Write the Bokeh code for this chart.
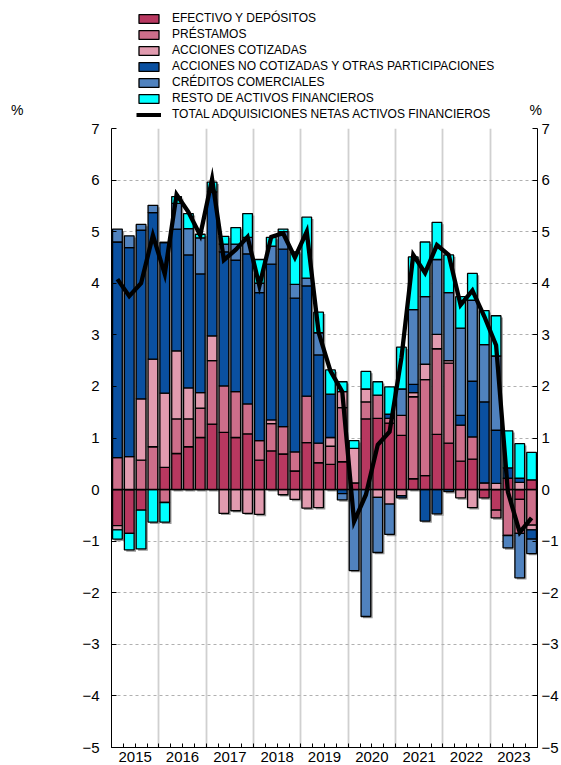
import numpy as np
from bokeh.plotting import figure
from bokeh.layouts import column
from bokeh.models import (ColumnDataSource, FixedTicker, LinearAxis, Legend,
                          LegendItem, Span)
from bokeh.embed import file_html
from bokeh.resources import INLINE

# ---------------- data (quarterly, 2015Q1 - 2023Q4), % ----------------
years = ["2015", "2016", "2017", "2018", "2019", "2020", "2021", "2022", "2023"]

efectivo = [-0.70, -0.85, -0.40, 0.00, 0.43, 0.70, 0.83, 1.01, 1.27, 1.11, 1.01, 1.08,
            0.57, 0.75, 0.69, 0.36, 0.91, 0.52, 0.49, 0.54, 0.13, 1.37, 1.38, 1.29,
            1.05, 0.21, 0.27, 1.07, 0.90, 0.55, 0.59, -0.16, -0.40, 0.22, -0.19, 0.19]
prestamos = [0.62, 0.00, 0.57, 0.83, -0.25, 0.67, 0.54, 0.57, 1.23, 0.90, 0.89, 0.58,
             0.38, 0.53, 0.53, 0.37, 0.90, 0.38, 0.35, 1.05, 0.00, 0.33, 0.45, 0.09,
             0.39, 1.59, 1.86, 1.66, 1.55, 0.70, 0.43, 0.13, -0.15, -0.89, -0.66, -0.69]
acc_cotizadas = [-0.08, 0.64, 1.19, 1.70, 1.44, 1.32, 0.60, 0.30, 0.48, -0.46, -0.41, -0.46,
                 -0.48, 0.07, -0.10, -0.19, -0.36, -0.35, 0.17, 0.31, 0.67, 0.25, -0.15, -0.28,
                 -0.12, 0.08, 0.30, 0.28, 0.05, -0.16, -0.35, 0.00, 0.12, 0.00, 0.14, -0.09]
acc_no_cotizadas = [4.18, 4.05, 3.27, 2.84, 2.92, 2.36, 2.58, 2.30, 2.79, 2.60, 2.55, 2.91,
                    2.87, 3.02, 3.44, 2.98, 2.14, 1.71, 0.84, -0.08, 0.00, 0.00, 0.00, 0.08,
                    -0.04, 0.16, -0.61, -0.47, -0.04, 0.19, 1.08, 1.57, 1.03, 0.20, 0.08, -0.18]
creditos = [0.25, 0.23, 0.11, 0.14, 0.00, 0.50, 0.51, 0.70, 0.00, 0.15, 0.31, 0.32,
            0.18, 0.35, 0.34, 0.27, 0.15, 0.43, 0.00, -0.12, -1.57, -2.46, -1.07, -0.59,
            0.51, 1.45, 1.31, 1.45, 1.32, 1.69, 1.57, 1.11, 1.44, -0.24, -0.86, -0.28]
resto = [-0.18, -0.32, -0.75, -0.63, -0.38, 0.13, 0.29, 0.07, 0.19, 0.15, 0.32, 0.46,
         0.46, 0.17, 0.05, 0.63, 1.18, 0.40, 0.47, 0.19, 0.15, 0.34, 0.26, 0.53,
         0.81, 1.02, 1.06, 0.72, 0.73, 0.61, 0.52, 0.66, 0.78, 0.72, 0.67, 0.53]
total = [4.08, 3.75, 4.00, 4.93, 4.18, 5.72, 5.38, 4.93, 6.02, 4.45, 4.65, 4.90,
         3.95, 4.90, 4.97, 4.50, 5.00, 3.05, 2.30, 1.90, -0.62, -0.10, 0.87, 1.12,
         2.55, 4.55, 4.20, 4.74, 4.55, 3.58, 3.86, 3.36, 2.80, -0.05, -0.83, -0.55]

labels = ["EFECTIVO Y DEPÓSITOS", "PRÉSTAMOS", "ACCIONES COTIZADAS",
          "ACCIONES NO COTIZADAS Y OTRAS PARTICIPACIONES", "CRÉDITOS COMERCIALES",
          "RESTO DE ACTIVOS FINANCIEROS"]
line_label = "TOTAL ADQUISICIONES NETAS ACTIVOS FINANCIEROS"
colors = ["#b83860", "#cd6e8a", "#e19baf", "#0a50a0", "#5082be", "#00ffff"]

FONT = "Liberation Sans"
W = 559
TOP_H = 121

# ---------------- main chart ----------------
n = len(total)
xc = np.arange(n) + 0.5

p = figure(frame_width=426, frame_height=619, x_range=(0, n), y_range=(-5, 7),
           output_backend="svg", toolbar_location=None,
           min_border_left=111, min_border_top=7, min_border_right=22, min_border_bottom=0)
p.outline_line_color = None
p.background_fill_color = "white"

# grids
p.ygrid.ticker = FixedTicker(ticks=list(range(-5, 8)))
p.ygrid.grid_line_color = "#b0b0b0"
p.ygrid.grid_line_dash = "3 3"
p.ygrid.grid_line_width = 1
p.xgrid.ticker = FixedTicker(ticks=list(range(4, n, 4)))
p.xgrid.grid_line_color = "#d0d0d0"
p.xgrid.grid_line_width = 1.8

# stacked bars (positive up, negative down)
series = [efectivo, prestamos, acc_cotizadas, acc_no_cotizadas, creditos, resto]
pos = np.zeros(n)
neg = np.zeros(n)
segs = []
for vals in series:
    v = np.array(vals, dtype=float)
    bottom = np.where(v >= 0, pos, neg + v)
    top = np.where(v >= 0, pos + v, neg)
    pos = np.where(v >= 0, pos + v, pos)
    neg = np.where(v < 0, neg + v, neg)
    segs.append((bottom, top))

bw = 0.82
# drop shadow behind each stacked bar
p.vbar(x=xc + 0.16, top=pos - 0.035, bottom=neg - 0.035, width=bw,
       fill_color="#999999", line_color=None)

for (bottom, top), col in zip(segs, colors):
    src = ColumnDataSource(dict(x=xc, top=top, bottom=bottom))
    p.vbar(x="x", top="top", bottom="bottom", width=bw, source=src,
           fill_color=col, line_color="black", line_width=1.3)

p.add_layout(Span(location=0, dimension="width", line_color="black", line_width=1.5))

p.line(xc, total, line_color="black", line_width=4.3, line_join="miter")

# axes
ya = p.yaxis[0]
ry = LinearAxis()
p.add_layout(ry, "right")
for ax, so in [(ya, 12), (ry, 4)]:
    ax.ticker = FixedTicker(ticks=list(range(-5, 8)))
    ax.major_tick_in = 5
    ax.major_tick_out = 0
    ax.minor_tick_in = 0
    ax.minor_tick_out = 0
    ax.axis_line_color = "black"
    ax.major_label_text_font = FONT
    ax.major_label_text_font_size = "15px"
    ax.major_label_text_color = "black"
    ax.major_label_standoff = so

year_centers = [4 * i + 2 for i in range(len(years))]
xa = p.xaxis[0]
xa.ticker = FixedTicker(ticks=year_centers, minor_ticks=list(range(0, n + 1)))
xa.major_label_overrides = {c: y for c, y in zip(year_centers, years)}
xa.major_tick_in = 0
xa.major_tick_out = 0
xa.minor_tick_in = 4
xa.minor_tick_out = 0
xa.axis_line_color = "black"
xa.major_label_text_font = FONT
xa.major_label_text_font_size = "15px"
xa.major_label_text_color = "black"
xa.major_label_standoff = 4

# ---------------- legend strip above the chart ----------------
top = figure(width=W, height=TOP_H, x_range=(0, 1), y_range=(0, TOP_H),
             output_backend="svg", toolbar_location=None,
             x_axis_location=None, y_axis_location=None,
             min_border_left=0, min_border_right=0, min_border_top=0, min_border_bottom=0)
top.outline_line_color = None
top.grid.visible = False

nan = np.array([np.nan])
items = []
for l, col in zip(labels, colors):
    r = top.vbar(x=nan, top=nan, width=1, fill_color=col, line_color="black", line_width=1.3)
    items.append(LegendItem(label=l, renderers=[r]))
rl = top.line(x=nan, y=nan, line_color="black", line_width=4)
items.append(LegendItem(label=line_label, renderers=[rl]))

leg = Legend(items=items, location=(25, 0), orientation="vertical",
             glyph_width=25, glyph_height=11, label_height=11, spacing=2,
             label_standoff=11, padding=0, margin=0, border_line_color=None,
             background_fill_alpha=0, label_text_font=FONT,
             label_text_font_size="12px", label_text_color="black")
top.add_layout(leg)

# "%" unit labels, carried by axes of the strip
for side, so in (("left", 88), ("right", -6)):
    ua = LinearAxis(ticker=FixedTicker(ticks=[4], minor_ticks=[]),
                    major_label_overrides={4: "%"})
    ua.axis_line_color = None
    ua.major_tick_in = 0
    ua.major_tick_out = 0
    ua.minor_tick_in = 0
    ua.minor_tick_out = 0
    ua.major_label_text_font = FONT
    ua.major_label_text_font_size = "14px"
    ua.major_label_text_color = "black"
    ua.major_label_standoff = so
    top.add_layout(ua, side)

layout = column(top, p, spacing=0)
open("out.html", "w").write(file_html(layout, INLINE))
